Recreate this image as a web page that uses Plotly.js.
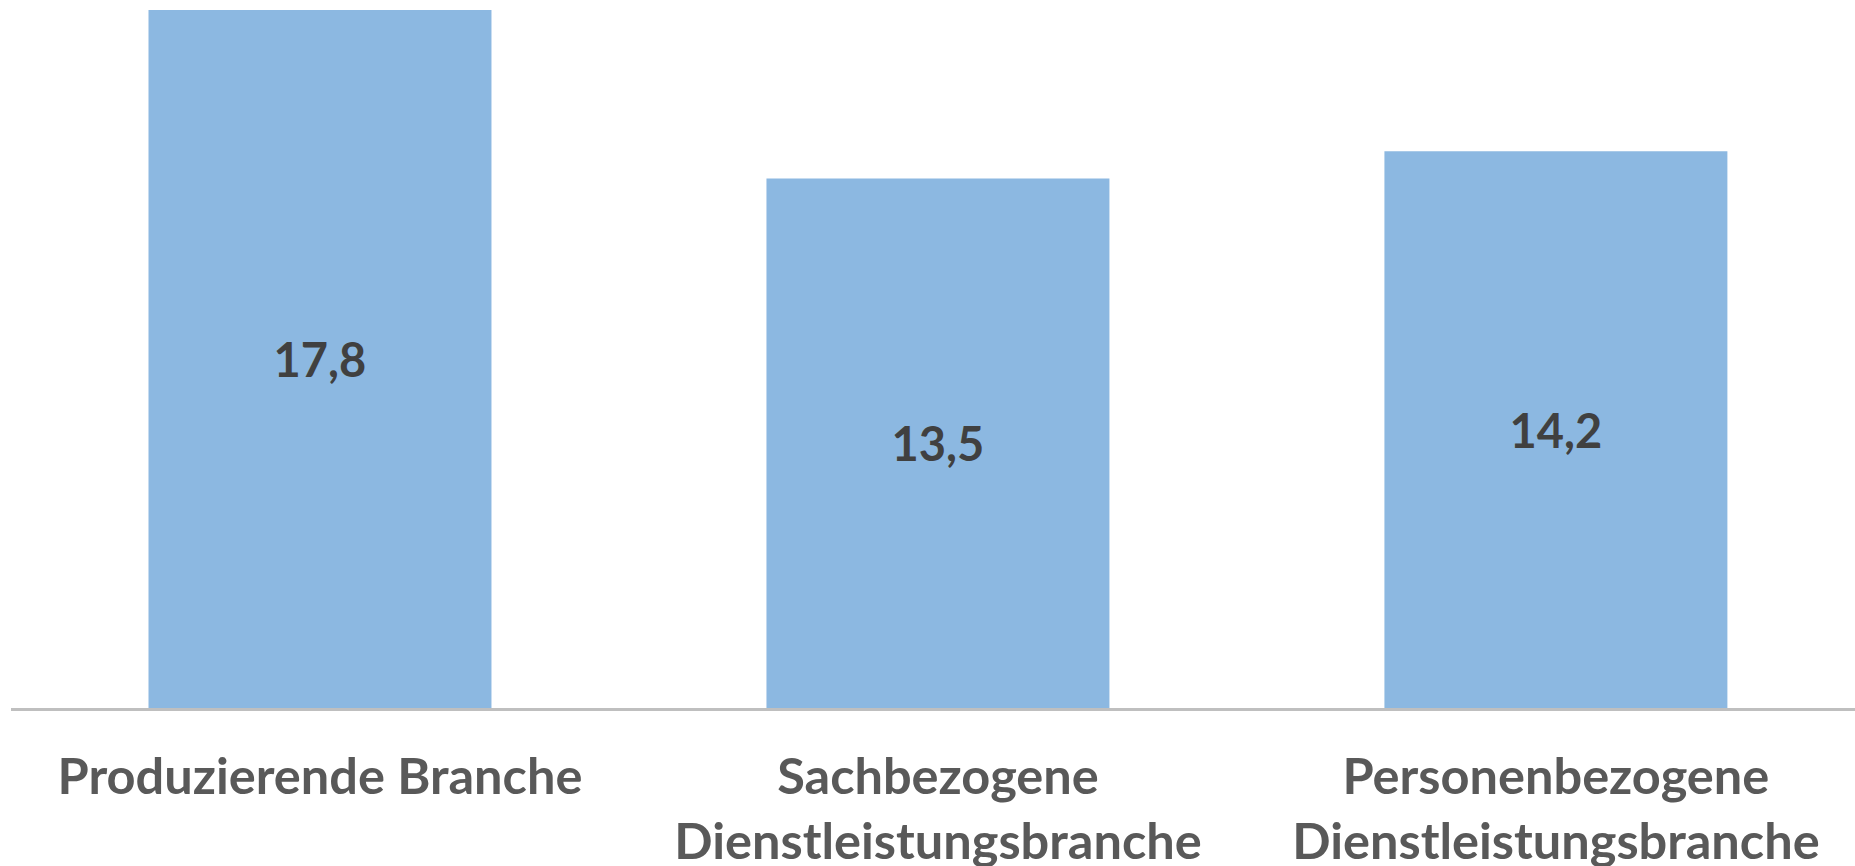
<!DOCTYPE html>
<html>
<head>
<meta charset="utf-8">
<script src="https://cdn.plot.ly/plotly-3.0.1.min.js"></script>
<style>html,body{margin:0;padding:0;background:#fff;}#chart{width:1855px;height:866px;}</style>
</head>
<body>
<div id="chart"></div>
<script>
const categories = ["Produzierende Branche", "Sachbezogene<br>Dienstleistungsbranche", "Personenbezogene<br>Dienstleistungsbranche"];
const values = [17.8, 13.5, 14.2];
const valueLabels = values.map(v => v.toFixed(1).replace(".", ","));

const trace = {
  type: "bar",
  x: categories,
  y: values,
  text: valueLabels,
  textposition: "inside",
  insidetextanchor: "middle",
  textangle: 0,
  textfont: {family: "Lato, 'Open Sans', sans-serif", size: 47, color: "#404040", weight: 700},
  marker: {color: "#8cb8e1", line: {width: 0}},
  hoverinfo: "none"
};

const layout = {
  width: 1855, height: 866,
  margin: {l: 11, r: 0, t: 10, b: 158, pad: 0},
  paper_bgcolor: "#ffffff", plot_bgcolor: "#ffffff",
  bargap: 0.445,
  showlegend: false,
  xaxis: {
    type: "category",
    range: [-0.5, 2.484],
    showline: true, linecolor: "#bfbfbf", linewidth: 3,
    ticks: "outside", ticklen: 22, tickcolor: "rgba(0,0,0,0)",
    tickfont: {family: "Lato, 'Open Sans', sans-serif", size: 50.5, color: "#595959", weight: 700},
    showgrid: false, zeroline: false, fixedrange: true
  },
  yaxis: {
    range: [0, 17.8],
    visible: false, showgrid: false, zeroline: false, fixedrange: true
  }
};

Plotly.newPlot("chart", [trace], layout, {displayModeBar: false, staticPlot: true});
</script>
</body>
</html>
